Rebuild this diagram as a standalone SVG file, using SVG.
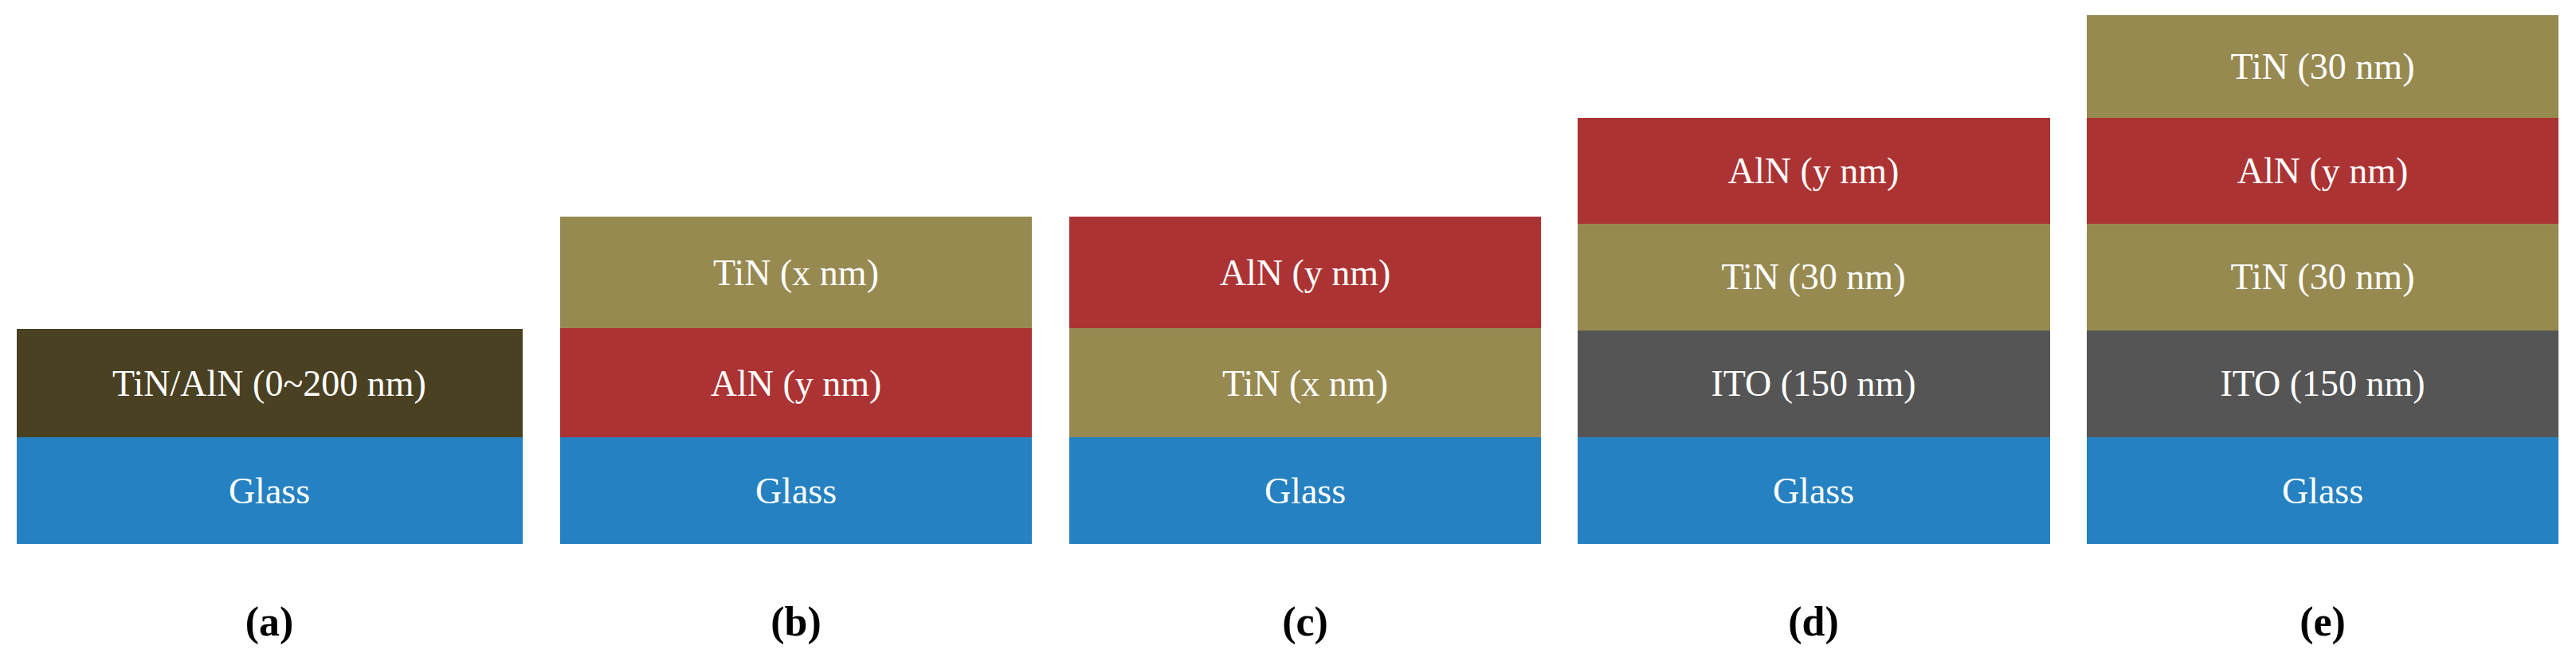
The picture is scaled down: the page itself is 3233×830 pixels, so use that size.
<svg xmlns="http://www.w3.org/2000/svg" width="3233" height="830" viewBox="0 0 3233 830">
<style>
.g{fill:#2581C1}.t{fill:#978A51}.a{fill:#AC3333}.i{fill:#555555}.m{fill:#4A4123}
text{font-family:"Liberation Serif",serif;text-anchor:middle}
.l{fill:#fff;font-size:46px}
.c{fill:#000;font-size:52px;font-weight:bold}
</style>
<rect width="3233" height="830" fill="#fff"/>
<g id="a">
<rect class="m" x="21" y="413" width="635" height="136"/><text class="l" x="338" y="497">TiN/AlN (0~200 nm)</text>
<rect class="g" x="21" y="549" width="635" height="134"/><text class="l" x="338" y="632">Glass</text>
<text class="c" x="338" y="798">(a)</text>
</g>
<g id="b">
<rect class="t" x="703" y="272" width="592" height="140"/><text class="l" x="999" y="358">TiN (x nm)</text>
<rect class="a" x="703" y="412" width="592" height="137"/><text class="l" x="999" y="497">AlN (y nm)</text>
<rect class="g" x="703" y="549" width="592" height="134"/><text class="l" x="999" y="632">Glass</text>
<text class="c" x="999" y="798">(b)</text>
</g>
<g id="c">
<rect class="a" x="1342" y="272" width="592" height="140"/><text class="l" x="1638" y="358">AlN (y nm)</text>
<rect class="t" x="1342" y="412" width="592" height="137"/><text class="l" x="1638" y="497">TiN (x nm)</text>
<rect class="g" x="1342" y="549" width="592" height="134"/><text class="l" x="1638" y="632">Glass</text>
<text class="c" x="1638" y="798">(c)</text>
</g>
<g id="d">
<rect class="a" x="1980" y="148" width="593" height="133"/><text class="l" x="2276" y="230">AlN (y nm)</text>
<rect class="t" x="1980" y="281" width="593" height="134"/><text class="l" x="2276" y="363">TiN (30 nm)</text>
<rect class="i" x="1980" y="415" width="593" height="134"/><text class="l" x="2276" y="497">ITO (150 nm)</text>
<rect class="g" x="1980" y="549" width="593" height="134"/><text class="l" x="2276" y="632">Glass</text>
<text class="c" x="2276" y="798">(d)</text>
</g>
<g id="e">
<rect class="t" x="2619" y="19" width="592" height="129"/><text class="l" x="2915" y="99">TiN (30 nm)</text>
<rect class="a" x="2619" y="148" width="592" height="133"/><text class="l" x="2915" y="230">AlN (y nm)</text>
<rect class="t" x="2619" y="281" width="592" height="134"/><text class="l" x="2915" y="363">TiN (30 nm)</text>
<rect class="i" x="2619" y="415" width="592" height="134"/><text class="l" x="2915" y="497">ITO (150 nm)</text>
<rect class="g" x="2619" y="549" width="592" height="134"/><text class="l" x="2915" y="632">Glass</text>
<text class="c" x="2915" y="798">(e)</text>
</g>
<g id="connectors"/>
</svg>
